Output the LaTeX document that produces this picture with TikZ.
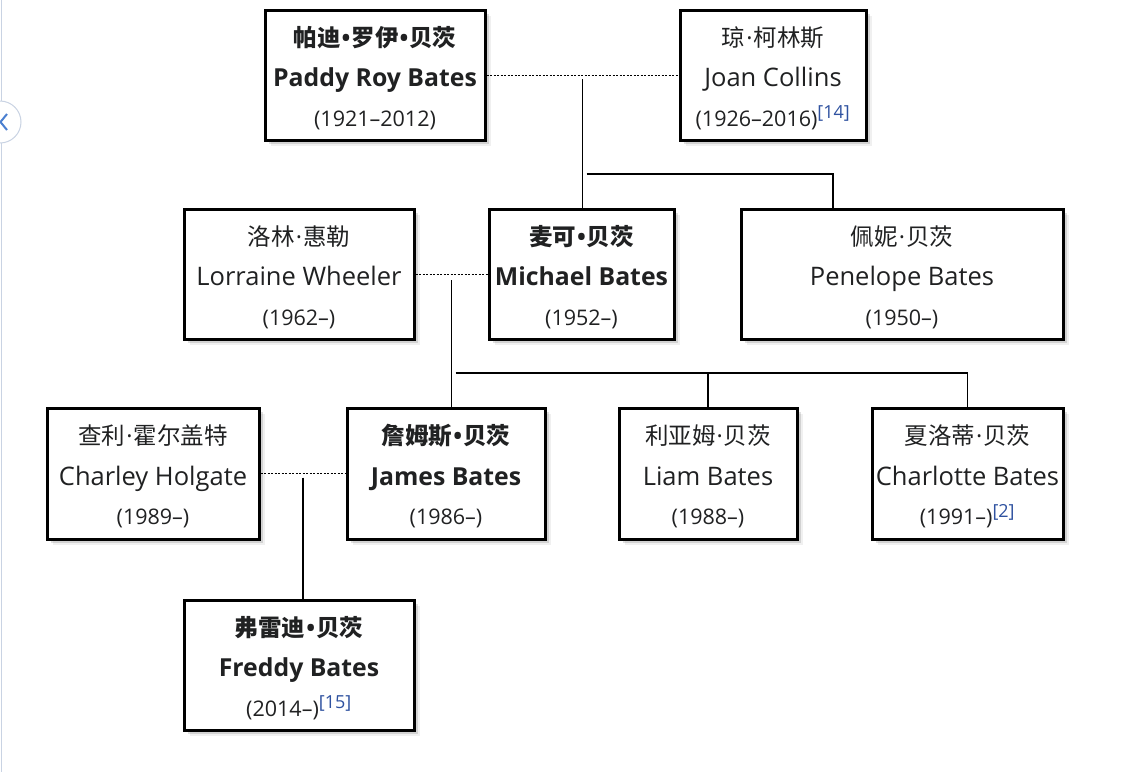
\documentclass[tikz,border=0pt]{standalone}
\usepackage{fontspec}
\setmainfont{Open Sans}
\newfontfamily\cjk{Noto Sans CJK SC}
\usetikzlibrary{shadows,calc}
\definecolor{txt}{HTML}{202122}
\definecolor{linkblue}{HTML}{2F52A0}
\definecolor{uiline}{HTML}{C9D3E3}
\definecolor{uichev}{HTML}{4A7FD0}
\newcommand{\yrs}{\fontsize{21.5}{39.5}\selectfont}
\newcommand{\cn}{\fontsize{23.5}{39.5}\selectfont\rule{0pt}{26pt}\cjk}
\newcommand{\bn}{\fontsize{24.8}{39.5}\selectfont\bfseries}
\newcommand{\md}{{\rmfamily\kern1pt·\kern1pt}}
\newcommand{\bd}{{\rmfamily\kern1pt•\kern1pt}}
\newcommand{\refmark}[1]{\textsuperscript{\color{linkblue}\fontsize{18}{18}\selectfont[#1]}}
\begin{document}
\begin{tikzpicture}[x=1pt,y=-1pt,
  person/.style={draw=black, line width=3pt, fill=white, rectangle, inner sep=0pt,
    align=center, text=txt, font=\fontsize{25.5}{39.5}\selectfont,
    drop shadow={shadow xshift=2pt, shadow yshift=-2pt, opacity=0.22, fill=black},
    drop shadow={shadow xshift=4pt, shadow yshift=-4pt, opacity=0.12, fill=black},
    drop shadow={shadow xshift=6pt, shadow yshift=-6pt, opacity=0.06, fill=black}},
  spouse/.style={line width=1pt, dash pattern=on 2pt off 1.5pt},
  kin/.style={line width=1.2pt}]
\useasboundingbox (0,0) rectangle (1138,772);
\fill[white] (0,0) rectangle (1138,772);
% side UI
\draw[uiline, line width=1pt] (1.5,0) -- (1.5,772);
\draw[uiline, fill=white, line width=1pt] (0,122) circle[radius=21];
\draw[uichev, line width=2pt] (7,114) -- (0.5,122) -- (7,130);

% persons
\node[person, minimum width=220pt, minimum height=130pt] (paddy) at (375,75)
  {{\cn\bfseries 帕迪\bd 罗伊\bd 贝茨}\\[1pt]{\bn Paddy Roy Bates}\\{\yrs (1921–2012)}};
\node[person, minimum width=186pt, minimum height=130pt] (joan) at (773,75)
  {{\cn 琼\md 柯林斯}\\[1pt]Joan Collins\\{\yrs (1926–2016)\refmark{14}}};

\node[person, minimum width=230pt, minimum height=130pt] (lorraine) at (299,274)
  {{\cn 洛林\md 惠勒}\\[1pt]Lorraine Wheeler\\{\yrs (1962–)}};
\node[person, minimum width=185pt, minimum height=130pt] (michael) at (581.5,274)
  {{\cn\bfseries 麦可\bd 贝茨}\\[1pt]{\bn Michael Bates}\\{\yrs (1952–)}};
\node[person, minimum width=322pt, minimum height=130pt] (penelope) at (902,274)
  {{\cn 佩妮\md 贝茨}\\[1pt]Penelope Bates\\{\yrs (1950–)}};

\node[person, minimum width=212pt, minimum height=131pt] (charley) at (153,473.5)
  {{\cn 查利\md 霍尔盖特}\\[1pt]Charley Holgate\\{\yrs (1989–)}};
\node[person, minimum width=198pt, minimum height=131pt] (james) at (446,473.5)
  {{\cn\bfseries 詹姆斯\bd 贝茨}\\[1pt]{\bn James Bates}\\{\yrs (1986–)}};
\node[person, minimum width=178pt, minimum height=131pt] (liam) at (708,473.5)
  {{\cn 利亚姆\md 贝茨}\\[1pt]Liam Bates\\{\yrs (1988–)}};
\node[person, minimum width=191pt, minimum height=131pt] (charlotte) at (967.5,473.5)
  {{\cn 夏洛蒂\md 贝茨}\\[1pt]Charlotte Bates\\{\yrs (1991–)\refmark{2}}};

\node[person, minimum width=230pt, minimum height=130pt] (freddy) at (299,665)
  {{\cn\bfseries 弗雷迪\bd 贝茨}\\[1pt]{\bn Freddy Bates}\\{\yrs (2014–)\refmark{15}}};

% marriages
\draw[spouse] (paddy.east) -- (joan.west);
\draw[spouse] (lorraine.east) -- (michael.west);
\draw[spouse] (charley.east) -- (james.west);
\coordinate (pj) at ($(paddy.east)!0.5!(joan.west)$);
\coordinate (lm) at ($(lorraine.east)!0.5!(michael.west)$);
\coordinate (cj) at ($(charley.east)!0.5!(james.west)$);

% descent: Paddy + Joan
\coordinate (pjbar) at ($(pj)+(4,99)$);
\coordinate (penleg) at (833,174);
\draw[kin] ([yshift=-4pt]pj) -- (pj |- michael.north);
\draw[kin] (pjbar) -- (penleg) -- (penleg |- penelope.north);

% descent: Lorraine + Michael
\coordinate (lmbar) at ($(lm)+(4,99)$);
\draw[kin] ([yshift=-6pt]lm) -- (lm |- james.north);
\draw[kin] (lmbar) -| (charlotte.north);
\draw[kin] (lmbar -| liam.north) -- (liam.north);

% descent: Charley + James
\draw[kin] ([yshift=-4pt]cj) -- (cj |- freddy.north);
\end{tikzpicture}
\end{document}
